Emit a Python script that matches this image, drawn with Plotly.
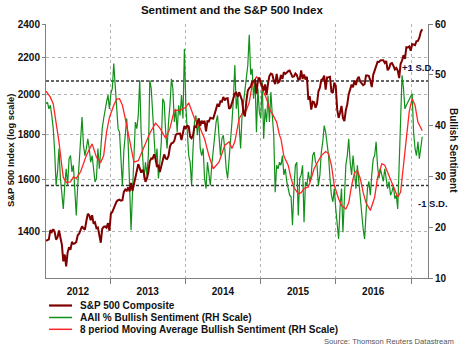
import math
import pandas as pd
import plotly.graph_objects as go

# ---------------------------------------------------------------- data
START = "2012-02-24"          # first weekly observation (Friday)

# S&P 500 Composite, weekly closes
SP500 = [
    # 2012
    1366, 1370, 1371, 1404, 1397, 1408, 1398, 1370, 1378, 1403,
    1369, 1353, 1295, 1318, 1278, 1325, 1343, 1335, 1362, 1355,
    1357, 1362, 1386, 1391, 1405, 1418, 1411, 1406, 1438, 1465,
    1460, 1441, 1460, 1428, 1433, 1411, 1414, 1380, 1359, 1409,
    1416, 1418, 1413, 1430, 1402,
    # 2013
    1466, 1472, 1486, 1503, 1513, 1518, 1520, 1516, 1518, 1551,
    1561, 1556, 1569, 1553, 1588, 1555, 1582, 1614, 1633, 1667,
    1650, 1631, 1643, 1626, 1592, 1606, 1632, 1680, 1692, 1691,
    1710, 1691, 1655, 1664, 1633, 1655, 1688, 1710, 1692, 1690,
    1703, 1745, 1760, 1762, 1771, 1798, 1804, 1806, 1805, 1775,
    1818, 1841,
    # 2014
    1831, 1842, 1839, 1790, 1783, 1797, 1838, 1836, 1859, 1878,
    1841, 1866, 1857, 1865, 1816, 1864, 1863, 1881, 1878, 1877,
    1900, 1924, 1950, 1936, 1963, 1961, 1985, 1968, 1978, 1979,
    1925, 1931, 1955, 1988, 2003, 2007, 1985, 2010, 1982, 1968,
    1906, 1887, 1964, 2018, 2032, 2039, 2064, 2068, 2075, 2002,
    2071, 2089,
    # 2015
    2058, 2044, 2019, 2051, 1995, 2055, 2097, 2110, 2105, 2071,
    2053, 2108, 2061, 2067, 2102, 2081, 2117, 2108, 2116, 2123,
    2126, 2107, 2092, 2094, 2110, 2102, 2077, 2077, 2127, 2080,
    2104, 2078, 2092, 1971, 1989, 1921, 1961, 1958, 1931, 1951,
    2015, 2033, 2075, 2079, 2099, 2023, 2089, 2090, 2092, 2012,
    2006, 2061, 2044,
    # 2016
    1922, 1880, 1907, 1940, 1880, 1865, 1918, 1948, 2000, 2022,
    2050, 2036, 2073, 2048, 2081, 2092, 2065, 2057, 2047, 2052,
    2099, 2099, 2096, 2071, 2037, 2103, 2130, 2162, 2175, 2174,
    2183, 2184, 2184, 2169, 2180, 2128, 2139, 2165, 2168, 2153,
    2133, 2141, 2126, 2085, 2164, 2182, 2213, 2192, 2260, 2258,
    2264, 2239,
    # 2017
    2277, 2275, 2271, 2295, 2297, 2316, 2351, 2367,
]

# AAII % bullish sentiment, weekly
AAII_BULLISH = [
    44.3, 44.6, 43.3, 44.0, 42.0, 39.5, 35.0, 28.2, 30.9, 35.5,
    29.6, 25.6, 23.6, 28.2, 31.5, 28.2, 33.5, 34.1, 30.9, 32.2,
    27.6, 22.3, 28.2, 32.8, 36.8, 41.7, 36.1, 34.1, 35.5, 37.4,
    35.5, 32.8, 34.1, 31.0, 28.9, 29.6, 35.5, 31.5, 35.5, 39.4,
    41.4, 42.7, 44.6, 46.0, 43.3, 46.3, 47.3, 52.2, 47.9, 44.0,
    39.4, 38.7, 34.1, 28.2, 35.0, 38.7, 41.4, 36.5, 28.0, 19.4,
    26.9, 34.1, 40.7, 39.4, 42.0, 48.9, 38.7, 34.1, 29.6, 32.8,
    30.2, 34.1, 48.9, 47.3, 42.0, 37.4, 32.8, 35.5, 29.6, 32.8,
    36.8, 45.3, 44.6, 38.7, 35.5, 40.7, 44.0, 49.2, 47.3, 40.7,
    43.3, 38.7, 44.0, 42.0, 46.0, 41.4, 55.1, 44.0, 38.7, 34.1,
    32.8, 28.2, 35.5, 40.7, 42.0, 38.1, 41.4, 35.5, 34.1, 35.5,
    29.6, 27.6, 32.8, 30.2, 28.2, 32.2, 35.5, 38.7, 40.7, 42.0,
    37.4, 34.1, 37.4, 38.1, 35.5, 31.5, 29.6, 32.8, 36.8, 40.7,
    45.3, 51.9, 43.3, 46.0, 40.1, 35.5, 42.0, 44.6, 47.3, 49.9,
    51.9, 57.9, 50.0, 51.2, 45.3, 49.0, 38.7, 47.3, 42.7, 41.4,
    48.6, 37.4, 43.3, 40.7, 45.9, 40.7, 46.6, 42.0, 38.0, 26.9,
    32.2, 31.5, 32.8, 32.2, 34.1, 30.3, 31.5, 29.0, 27.6, 26.3,
    26.0, 20.4, 27.6, 32.2, 32.8, 22.3, 29.6, 30.3, 32.2, 21.0,
    28.9, 28.2, 30.9, 28.9, 30.3, 34.1, 34.8, 32.8, 32.2, 28.2,
    30.3, 34.8, 36.8, 40.0, 38.7, 36.8, 34.1, 29.6, 26.3, 25.0,
    27.6, 23.6, 21.0, 17.7, 24.0, 27.6, 19.0, 26.3, 32.2, 34.1,
    37.4, 32.8, 30.3, 34.1, 31.5, 27.6, 32.2, 29.0, 25.0, 22.3,
    19.7, 17.7, 23.6, 27.6, 29.0, 26.3, 30.3, 33.5, 34.1, 36.8,
    32.0, 29.6, 31.5, 30.3, 29.0, 31.5, 29.6, 27.6, 29.0, 26.3,
    27.0, 28.2, 25.6, 26.3, 23.6, 34.1, 44.0, 49.9, 47.3, 43.3,
    44.0, 44.6, 45.3, 45.6, 46.3, 38.7, 35.5, 34.1, 36.8, 33.5,
    35.5, 37.8,
]

# 8 period moving average of bullish sentiment (week number, value)
MA_WEEK = [
    0, 3, 5, 7, 9, 11, 12, 14, 17, 19, 21, 24, 26, 28, 32, 35, 38, 40,
    42, 44, 47, 49, 51, 53, 55, 57, 59, 61, 64, 66, 69, 72, 76, 79, 83,
    86, 89, 93, 97, 99, 103, 106, 110, 113, 116, 120, 124, 127, 129, 131,
    134, 137, 139, 141, 143, 146, 148, 150, 153, 155, 157, 160, 162, 163,
    165, 168, 170, 172, 175, 177, 179, 182, 184, 186, 188, 191, 194, 196,
    198, 200, 203, 205, 208, 210, 212, 214, 216, 218, 220, 222, 225, 228,
    230, 233, 235, 238, 240, 242, 244, 246, 248, 250, 252, 254, 256, 258,
    261,
]
MA_VALUE = [
    46.8, 45.6, 44.3, 40.7, 36.8, 32.0, 29.8, 28.8, 28.9, 29.9, 29.6, 30.9,
    32.6, 34.1, 36.4, 33.8, 32.8, 34.1, 38.7, 41.6, 44.0, 45.2, 45.3, 44.0,
    41.4, 38.7, 35.5, 32.8, 33.1, 34.5, 36.5, 38.5, 40.5, 39.5, 37.5, 39.5,
    43.0, 43.0, 43.6, 44.5, 41.4, 40.1, 37.4, 34.1, 31.5, 32.8, 36.1, 36.8,
    35.5, 36.8, 41.4, 42.7, 43.0, 44.6, 48.0, 49.6, 49.0, 47.3, 45.3, 43.3,
    42.3, 40.7, 38.1, 37.4, 34.0, 32.2, 29.6, 27.8, 26.6, 26.8, 27.6, 27.9,
    29.6, 31.5, 32.6, 34.1, 34.9, 34.5, 32.2, 28.2, 25.6, 24.3, 23.6, 24.8,
    28.2, 30.7, 31.2, 29.6, 26.9, 24.8, 23.3, 25.9, 29.8, 32.5, 32.2, 30.2,
    28.9, 27.6, 25.9, 26.9, 32.2, 38.1, 42.8, 45.3, 44.0, 40.7, 39.0,
]

# +/- one standard deviation bands of bullish sentiment
SD_PLUS = 48.8
SD_MINUS = 28.2

LEFT_TICKS = [1400, 1600, 1800, 2000, 2200, 2400]
RIGHT_TICKS = [10, 20, 30, 40, 50, 60]
YEAR_LABELS = ["2012", "2013", "2014", "2015", "2016"]
YEAR_LABEL_AT = ["2012-07-28", "2013-07-02", "2014-07-02", "2015-07-02", "2016-07-01"]
YEAR_STARTS = ["2013-01-01", "2014-01-01", "2015-01-01", "2016-01-01", "2017-01-01"]

NAMES = [
    "S&P 500 Composite",
    "AAII % Bullish Sentiment (RH Scale)",
    "8 period Moving Average Bullish Sentiment (RH Scale)",
]

# ---------------------------------------------------------------- style
FONT = "Liberation Sans, Arial, Helvetica, sans-serif"
MAROON = "#800000"
GREEN = "#12901a"
RED = "#ff2626"
GRID = "#b4b4b4"
AXIS = "#808080"
TEXT = "#111111"

weeks = pd.date_range(START, periods=len(SP500), freq="7D")
ma_dates = [pd.Timestamp(START) + pd.Timedelta(weeks=w) for w in MA_WEEK]

fig = go.Figure()
fig.add_trace(go.Scatter(
    x=weeks, y=AAII_BULLISH, yaxis="y", mode="lines", name=NAMES[1],
    line=dict(color=GREEN, width=1.2), showlegend=False,
))
fig.add_trace(go.Scatter(
    x=ma_dates, y=MA_VALUE, yaxis="y", mode="lines", name=NAMES[2],
    line=dict(color=RED, width=1.3), showlegend=False,
))
fig.add_trace(go.Scatter(
    x=weeks, y=SP500, yaxis="y2", mode="lines", name=NAMES[0],
    line=dict(color=MAROON, width=2), showlegend=False,
))

tick_font = dict(family=FONT, size=10, color=TEXT, weight="bold")

# standard-deviation reference lines on the sentiment scale
shapes = []
for level in (SD_PLUS, SD_MINUS):
    shapes.append(dict(
        type="line", xref="paper", yref="y", x0=0, x1=1, y0=level, y1=level,
        line=dict(color="#333333", width=1.5, dash="3px,2px"), layer="below",
    ))

# legend rows drawn under the plot
legend_rows = [(-0.1083, MAROON, 2.2), (-0.1555, GREEN, 1.5), (-0.2020, RED, 1.5)]
annotations = []
for (ypos, color, width), name in zip(legend_rows, NAMES):
    shapes.append(dict(
        type="line", xref="paper", yref="paper", x0=0.008, x1=0.068,
        y0=ypos, y1=ypos, line=dict(color=color, width=width),
    ))
    annotations.append(dict(
        text=name, xref="paper", yref="paper", x=0.0838, y=ypos,
        xanchor="left", yanchor="middle", showarrow=False,
        font=dict(family=FONT, size=10, color=TEXT, weight="bold"),
    ))

annotations += [
    dict(text="+1 S.D.", xref="paper", yref="paper", x=0.926, y=0.830,
         xanchor="left", yanchor="middle", showarrow=False,
         font=dict(family=FONT, size=9.5, color="#0d1040", weight="bold")),
    dict(text="-1 S.D.", xref="paper", yref="paper", x=0.9686, y=0.295,
         xanchor="left", yanchor="middle", showarrow=False,
         font=dict(family=FONT, size=9.5, color="#0d1040", weight="bold")),
    dict(text="S&P 500 Index (log scale)", xref="paper", yref="paper",
         x=-0.0942, y=0.5, xanchor="center", yanchor="middle", textangle=-90,
         showarrow=False, font=dict(family=FONT, size=9.4, color=TEXT, weight="bold")),
    dict(text="Bullish Sentiment", xref="paper", yref="paper",
         x=1.068, y=0.5, xanchor="center", yanchor="middle", textangle=90,
         showarrow=False, font=dict(family=FONT, size=10, color=TEXT, weight="bold")),
    dict(text="Source: Thomson Reuters Datastream", xref="paper", yref="paper",
         x=1.0733, y=-0.2508, xanchor="right", yanchor="middle", showarrow=False,
         font=dict(family=FONT, size=7.6, color="#555555")),
]

fig.update_layout(
    width=462, height=348,
    margin=dict(l=46, r=34, t=24, b=70, pad=0),
    paper_bgcolor="white", plot_bgcolor="white",
    font=dict(family=FONT, size=10, color=TEXT),
    title=dict(text="Sentiment and the S&P 500 Index", x=0.502, xanchor="center",
               y=1 - 10 / 348, yanchor="middle",
               font=dict(family=FONT, size=11.5, color=TEXT, weight="bold")),
    xaxis=dict(
        type="date", range=["2012-02-24", "2017-03-24"],
        tickmode="array", tickvals=YEAR_LABEL_AT, ticktext=YEAR_LABELS,
        ticks="outside", ticklen=4, tickcolor="rgba(0,0,0,0)",
        tickfont=tick_font, showgrid=False, zeroline=False,
        showline=True, linecolor=AXIS, linewidth=1,
        minor=dict(tickmode="array", tickvals=YEAR_STARTS, ticks="outside",
                   ticklen=5, tickcolor=AXIS, tickwidth=1,
                   showgrid=True, gridcolor=GRID, griddash="dot", gridwidth=1),
    ),
    yaxis=dict(
        side="right", range=[10, 60], tickmode="array", tickvals=RIGHT_TICKS,
        ticks="outside", ticklen=4, tickcolor=AXIS, tickfont=tick_font,
        showline=True, linecolor=AXIS, linewidth=1,
        showgrid=False, zeroline=False,
    ),
    yaxis2=dict(
        overlaying="y", side="left", type="log",
        range=[math.log10(1240), math.log10(2400)],
        tickmode="array", tickvals=LEFT_TICKS,
        ticks="outside", ticklen=3, tickcolor=AXIS, tickfont=tick_font,
        showline=True, linecolor=AXIS, linewidth=1,
        showgrid=True, gridcolor=GRID, griddash="dot", gridwidth=1,
        zeroline=False,
    ),
    shapes=shapes,
    annotations=annotations,
    showlegend=False,
)

fig.write_html("out.html")
